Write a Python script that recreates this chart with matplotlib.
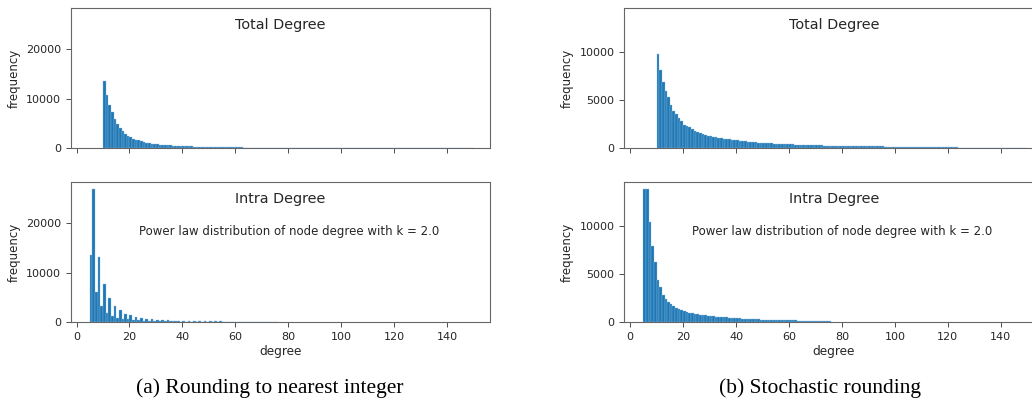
import numpy as np
import matplotlib
matplotlib.use('Agg')
import matplotlib.pyplot as plt

# degree values (bin left edges, width 1)
deg_total = np.arange(10, 150)
deg_intra = np.arange(5, 76)

# (a) rounding to nearest integer
total_a = [13630, 10700, 8680, 7250, 5970, 4950, 4070, 3460, 2920, 2500,
           2170, 1920, 1700, 1520, 1360, 1220, 1100, 990, 890, 810,
           740, 690, 640, 590, 550, 510, 480, 450, 420, 395,
           370, 350, 330, 310, 290, 275, 260, 245, 230, 220,
           205, 195, 185, 175, 165, 155, 148, 140, 132, 125,
           118, 112, 106, 100, 95, 90, 86, 82, 78, 74,
           70, 67, 64, 61, 58, 55, 52, 50, 48, 46,
           44, 42, 40, 38, 36, 34, 33, 32, 31, 30,
           29, 28, 27, 26, 25, 24, 23, 22, 21, 20,
           19, 18, 17, 16, 15, 15, 14, 14, 13, 13,
           12, 12, 11, 11, 10, 10, 9, 9, 8, 8,
           8, 7, 7, 7, 6, 6, 6, 5, 5, 5,
           5, 4, 4, 4, 4, 3, 3, 3, 3, 3,
           2, 2, 2, 2, 2, 2, 1, 1, 1, 1]
intra_a = [13600, 27000, 6000, 13200, 3270, 7690, 1900, 4830, 1220, 3330,
           880, 2450, 680, 1700, 540, 1360, 420, 1020, 330, 820,
           270, 680, 230, 560, 200, 470, 170, 400, 150, 350,
           130, 300, 115, 260, 100, 230, 90, 200, 80, 180,
           70, 160, 65, 145, 60, 130, 55, 120, 50, 110,
           45, 100, 42, 92, 40, 85, 37, 78, 35, 72,
           32, 66, 30, 60, 28, 55, 26, 50, 24, 46, 22]

# (b) stochastic rounding
total_b = [9800, 8150, 6900, 5950, 5250, 4480, 3850, 3500, 3080, 2800,
           2380, 2250, 2150, 1950, 1800, 1680, 1560, 1450, 1350, 1280,
           1220, 1160, 1110, 1060, 1020, 980, 940, 900, 860, 830,
           800, 760, 730, 700, 660, 630, 610, 580, 560, 540,
           525, 510, 490, 470, 450, 435, 420, 410, 400, 390,
           385, 370, 360, 345, 330, 320, 310, 300, 290, 285,
           280, 270, 262, 255, 248, 240, 232, 225, 218, 214,
           210, 206, 202, 198, 194, 190, 186, 183, 180, 177,
           175, 172, 168, 165, 160, 156, 152, 148, 144, 142,
           140, 132, 125, 118, 112, 106, 100, 95, 90, 86,
           82, 79, 76, 73, 70, 68, 66, 64, 62, 61,
           60, 57, 55, 53, 51, 49, 47, 45, 44, 43,
           42, 41, 40, 39, 38, 37, 36, 35, 35, 35,
           35, 34, 33, 32, 31, 30, 29, 28, 27, 40]
intra_b = [13850, 13850, 10420, 7940, 6220, 4370, 3600, 2800, 2380, 2030,
           1820, 1640, 1500, 1360, 1260, 1150, 1060, 980, 920, 860,
           800, 760, 720, 690, 660, 630, 600, 570, 540, 515,
           490, 470, 445, 425, 405, 385, 370, 355, 340, 328,
           315, 300, 285, 270, 258, 245, 238, 230, 222, 216,
           210, 203, 196, 189, 182, 175, 168, 161, 154, 147,
           140, 133, 126, 119, 112, 105, 98, 91, 84, 77, 70]

yticks = [[0, 10000, 20000], [0, 5000, 10000]]
captions = ['(a) Rounding to nearest integer', '(b) Stochastic rounding']
note = 'Power law distribution of node degree with k = 2.0'

fig = plt.figure(figsize=(10.32, 4.03), dpi=100)

lefts = [70.7 / 1032, 624.3 / 1032]
w = 419.3 / 1032
h = 140 / 403
caption_x = [270 / 1032, 820 / 1032]

for col, (tot, intra) in enumerate([(total_a, intra_a), (total_b, intra_b)]):
    ax1 = fig.add_axes([lefts[col], 1 - 148 / 403, w, h])
    ax2 = fig.add_axes([lefts[col], 1 - 322 / 403, w, h], sharex=ax1, sharey=ax1)
    ax1.hist(deg_total, bins=np.append(deg_total, deg_total[-1] + 1), weights=tot,
             color='#1f77b4', edgecolor='#8fbde3', linewidth=0.25)
    ax2.hist(deg_intra, bins=np.append(deg_intra, deg_intra[-1] + 1), weights=intra,
             color='#1f77b4', edgecolor='#8fbde3', linewidth=0.25)
    ax1.set_xlim(-2.2, 156.2)
    ax1.set_xticks(range(0, 160, 20))
    ax1.set_yticks(yticks[col])
    ax1.tick_params(labelbottom=False)
    for ax in (ax1, ax2):
        ax.tick_params(labelsize=8, length=3.5, width=0.7, color='0.3', labelcolor='0.15')
        for s in ax.spines.values():
            s.set_color('0.4')
            s.set_linewidth(0.8)
        ax.set_ylabel('frequency', fontsize=8.5, labelpad=4, color='0.15')
    ax1.text(0.5, 0.88, 'Total Degree', transform=ax1.transAxes,
             ha='center', va='center', fontsize=10.4, color='0.15')
    ax2.text(0.5, 0.88, 'Intra Degree', transform=ax2.transAxes,
             ha='center', va='center', fontsize=10.4, color='0.15')
    ax2.text(0.162, 0.645, note, transform=ax2.transAxes,
             ha='left', va='center', fontsize=8.5, color='0.15')
    ax2.set_xlabel('degree', fontsize=8.7, labelpad=2, color='0.15')
    fig.text(caption_x[col], 1 - 388 / 403, captions[col], ha='center', va='center',
             family='Liberation Serif', fontsize=15.5)

fig.savefig('out.png', dpi=100)
